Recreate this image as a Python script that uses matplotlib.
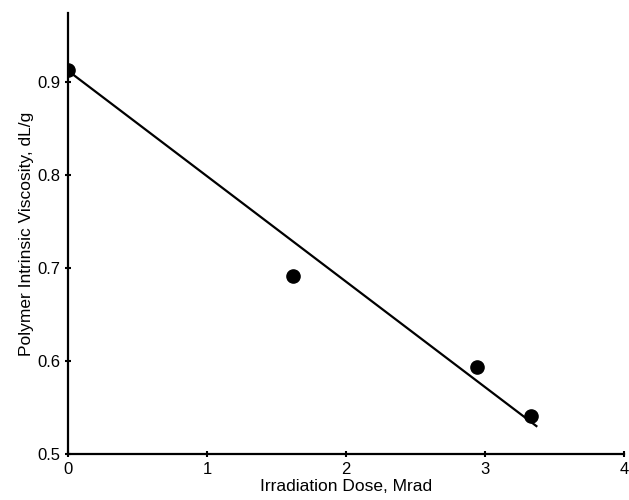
import matplotlib.pyplot as plt

# measured points
dose = [0.0, 1.62, 2.94, 3.33]
viscosity = [0.913, 0.691, 0.594, 0.541]

# fitted line end points
fit_dose = [0.0, 3.37]
fit_visc = [0.912, 0.530]

x_ticks = [0, 1, 2, 3, 4]
y_ticks = [0.5, 0.6, 0.7, 0.8, 0.9]

plt.rcParams['font.family'] = ['Liberation Sans', 'DejaVu Sans']

fig = plt.figure(figsize=(6.29, 5.0), dpi=100)
ax = fig.add_axes([0.108, 0.092, 0.884, 0.882])

ax.plot(fit_dose, fit_visc, color='black', linewidth=1.6)
ax.plot(dose, viscosity, 'o', color='black', markersize=9.5)

ax.set_xlim(0, 4)
ax.set_ylim(0.5, 0.974)
ax.set_xticks(x_ticks)
ax.set_yticks(y_ticks)
ax.set_xticklabels([str(t) for t in x_ticks])
ax.set_yticklabels([f"{t:.1f}" for t in y_ticks])

ax.spines['top'].set_visible(False)
ax.spines['right'].set_visible(False)
ax.spines['left'].set_linewidth(1.6)
ax.spines['bottom'].set_linewidth(1.6)
ax.tick_params(axis='both', direction='inout', length=5, width=1.5, labelsize=12, pad=3)

ax.set_xlabel('Irradiation Dose, Mrad', fontsize=12.5, labelpad=2)
ax.set_ylabel('Polymer Intrinsic Viscosity, dL/g', fontsize=12.5, labelpad=2)

plt.savefig('out.png', dpi=100)
